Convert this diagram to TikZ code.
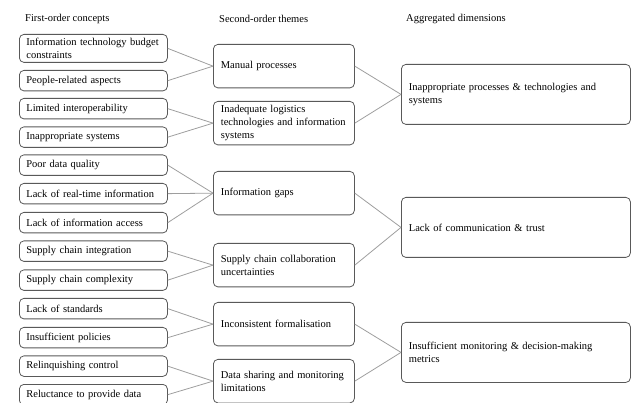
\documentclass[tikz,border=0pt]{standalone}
\usepackage{fontspec}
\setmainfont{Liberation Serif}
\begin{document}
\begin{tikzpicture}[x=1pt,y=-1pt,
  box/.style={draw=black!65, line width=0.8pt, rounded corners=4.5pt,
    inner xsep=7pt, inner ysep=0pt, align=left,
    font=\fontsize{10.5}{12.8}\selectfont, anchor=north west},
  concept/.style={box, minimum width=148pt, text width=134pt, minimum height=20.5pt},
  theme/.style={box, minimum width=141pt, text width=126pt, minimum height=43.5pt},
  dimension/.style={box, minimum width=229pt, text width=214pt, minimum height=60pt},
  header/.style={font=\fontsize{10.5}{12.8}\selectfont, anchor=west, inner sep=0pt},
  link/.style={draw=black!38, line width=0.8pt}]
\useasboundingbox (0,0) rectangle (632,403);

% column headings
\node[header] (h1) at (25,19) {First-order concepts};
\node[header] (h2) at (219,19) {Second-order themes};
\node[header] (h3) at (406,19) {Aggregated dimensions};

% first-order concepts
\node[concept, minimum height=28pt] (c1) at (19,34) {Information technology budget\\constraints};
\node[concept] (c2) at (19,70) {People-related aspects};
\node[concept] (c3) at (19,98) {Limited interoperability};
\node[concept] (c4) at (19,126.5) {Inappropriate systems};
\node[concept] (c5) at (19,154.5) {Poor data quality};
\node[concept] (c6) at (19,183) {Lack of real-time information};
\node[concept] (c7) at (19,212) {Lack of information access};
\node[concept] (c8) at (19,240.5) {Supply chain integration};
\node[concept] (c9) at (19,269.5) {Supply chain complexity};
\node[concept] (c10) at (19,298) {Lack of standards};
\node[concept] (c11) at (19,327) {Insufficient policies};
\node[concept] (c12) at (19,355.5) {Relinquishing control};
\node[concept] (c13) at (19,384) {Reluctance to provide data};

% second-order themes
\node[theme] (t1) at (213,44) {Manual processes};
\node[theme] (t2) at (213,101) {Inadequate logistics\\technologies and information\\systems};
\node[theme] (t3) at (213,171) {Information gaps};
\node[theme] (t4) at (213,243) {Supply chain collaboration\\uncertainties};
\node[theme] (t5) at (213,302) {Inconsistent formalisation};
\node[theme] (t6) at (213,359) {Data sharing and monitoring\\limitations};

% aggregated dimensions
\node[dimension] (d1) at (401,64) {Inappropriate processes \& technologies and\\systems};
\node[dimension] (d2) at (401,197) {Lack of communication \& trust};
\node[dimension] (d3) at (401,322) {Insufficient monitoring \& decision-making\\metrics};

% concepts to themes
\foreach \c/\t in {c1/t1,c2/t1,c3/t2,c4/t2,c5/t3,c6/t3,c7/t3,c8/t4,c9/t4,c10/t5,c11/t5,c12/t6,c13/t6}
  \draw[link] (\c.east) -- (\t.west);

% themes to dimensions
\foreach \t/\d in {t1/d1,t2/d1,t3/d2,t4/d2,t5/d3,t6/d3}
  \draw[link] (\t.east) -- (\d.west);
\end{tikzpicture}
\end{document}
